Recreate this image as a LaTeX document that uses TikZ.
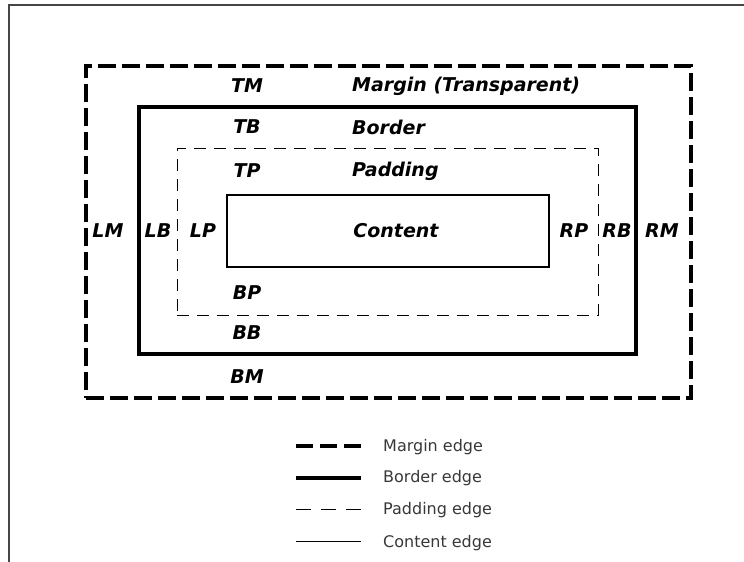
\documentclass[tikz,border=0pt]{standalone}
\usepackage{fontspec}
\setmainfont{DejaVu Sans}
\begin{document}
\begin{tikzpicture}[x=1pt,y=-1pt,
  frameline/.style={draw={rgb,255:red,70;green,70;blue,70},line width=2pt},
  marginedge/.style={draw=black,line width=3.6pt,dash pattern=on 18pt off 6pt},
  borderedge/.style={draw=black,line width=4pt},
  paddingedge/.style={draw=black,line width=1pt,dash pattern=on 12pt off 8pt},
  contentedge/.style={draw=black,line width=1.2pt},
  boxnode/.style={inner sep=0pt,outer sep=0pt},
  lbl/.style={font=\fontsize{19}{22}\selectfont\bfseries\itshape,inner sep=0pt},
  lbll/.style={lbl,anchor=west},
  legtext/.style={font=\fontsize{16}{19}\selectfont,text=black!78,anchor=west,inner sep=0pt},
]
\useasboundingbox (0,0) rectangle (744,562);
% outer frame
\coordinate (fa) at (9,562);
\coordinate (fb) at (9,5);
\coordinate (fc) at (744,5);
\draw[frameline] (fa) -- (fb) -- (fc);

% boxes
\node[boxnode,marginedge,minimum width=605pt,minimum height=332pt] (margin) at (388.5,232) {};
\node[boxnode,borderedge,minimum width=497pt,minimum height=247pt] (border) at (387.5,230.5) {};
\node[boxnode,paddingedge,minimum width=421pt,minimum height=167pt] (padding) at (387.5,231.5) {};
\node[boxnode,contentedge,minimum width=322pt,minimum height=72pt] (content) at (388,231) {};

% labels
\node[lbl] (tm) at (247,86) {TM};
\node[lbll] (mt) at (352,86) {Margin (Transparent)};
\node[lbl] (tb) at (247,127) {TB};
\node[lbll] (bt) at (352,127) {Border};
\node[lbl] (tp) at (247,171) {TP};
\node[lbll] (pt) at (352,171) {Padding};
\node[lbl] (ct) at (396,231) {Content};
\node[lbl] (lm) at (108,231) {LM};
\node[lbl] (lb) at (158,231) {LB};
\node[lbl] (lp) at (203,231) {LP};
\node[lbl] (rp) at (574,231) {RP};
\node[lbl] (rb) at (617,231) {RB};
\node[lbl] (rm) at (662,231) {RM};
\node[lbl] (bp) at (247,293) {BP};
\node[lbl] (bb) at (247,333) {BB};
\node[lbl] (bm) at (247,377) {BM};

% legend
\coordinate (m1) at (296,446); \coordinate (m2) at (361,446);
\coordinate (b1) at (296,477.5); \coordinate (b2) at (361,477.5);
\coordinate (p1) at (296,509); \coordinate (p2) at (361,509);
\coordinate (c1) at (296,541.5); \coordinate (c2) at (361,541.5);
\draw[marginedge,line width=4pt,dash pattern=on 17pt off 7pt] (m1) -- (m2);
\draw[borderedge] (b1) -- (b2);
\draw[paddingedge,dash pattern=on 15pt off 10pt] (p1) -- (p2);
\draw[contentedge,line width=1pt] (c1) -- (c2);
\node[legtext] (lm1) at (383,447) {Margin edge};
\node[legtext] (lb1) at (383,478) {Border edge};
\node[legtext] (lp1) at (383,510) {Padding edge};
\node[legtext] (lc1) at (383,543) {Content edge};
\end{tikzpicture}
\end{document}
